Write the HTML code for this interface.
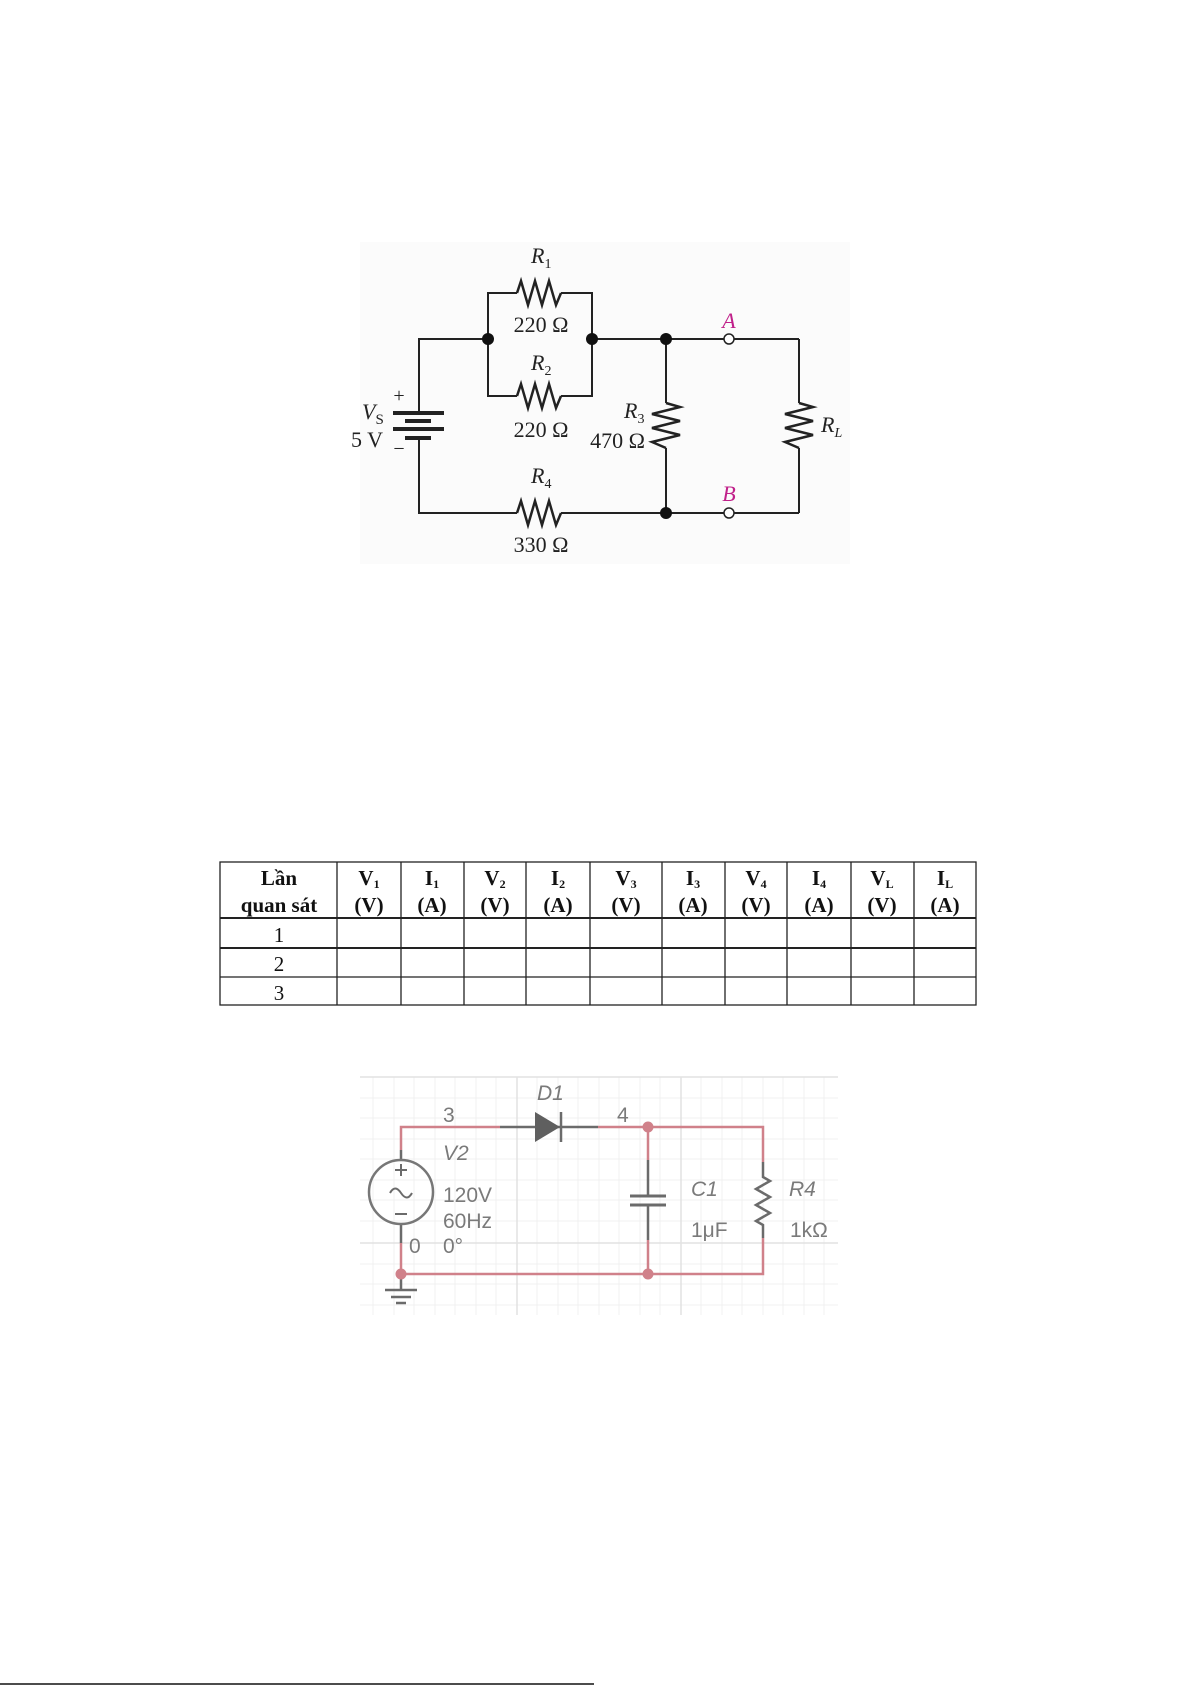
<!DOCTYPE html>
<html><head><meta charset="utf-8"><style>
html,body{margin:0;padding:0;background:#fff;}
svg{display:block;}
</style></head><body>
<svg width="1191" height="1685" viewBox="0 0 1191 1685" xmlns="http://www.w3.org/2000/svg">
<!-- Circuit 1 -->
<rect x="360" y="242" width="490" height="322" fill="#fbfbfb"/>
<g stroke="#222" stroke-width="2" fill="none">
  <polyline points="488,339 419,339 419,413"/>
  <polyline points="419,438 419,513 517,513"/>
  <polyline points="488,339 488,293 517,293"/>
  <polyline points="561,293 592,293 592,396 561,396"/>
  <polyline points="517,396 488,396 488,339"/>
  <polyline points="517,293 521,281 528,305 535,281 542,305 549,281 556,305 561,293" stroke-width="2.5"/>
  <polyline points="517,396 521,384 528,408 535,384 542,408 549,384 556,408 561,396" stroke-width="2.5"/>
  <polyline points="517,513 521,501 528,525 535,501 542,525 549,501 556,525 561,513" stroke-width="2.5"/>
  <line x1="561" y1="513" x2="724" y2="513"/>
  <line x1="734" y1="513" x2="799" y2="513"/>
  <line x1="592" y1="339" x2="724" y2="339"/>
  <line x1="734" y1="339" x2="799" y2="339"/>
  <polyline points="666,339 666,403"/>
  <polyline points="666,403 680,407 652,414 680,421 652,428 680,435 652,442 666,448" stroke-width="2.5"/>
  <polyline points="666,448 666,513"/>
  <polyline points="799,339 799,403"/>
  <polyline points="799,403 813,407 785,414 813,421 785,428 813,435 785,442 799,448" stroke-width="2.5"/>
  <polyline points="799,448 799,513"/>
</g>
<g stroke="#222" stroke-width="4">
  <line x1="393" y1="413" x2="444" y2="413"/>
  <line x1="405" y1="421" x2="431" y2="421"/>
  <line x1="393" y1="429" x2="444" y2="429"/>
  <line x1="405" y1="438" x2="431" y2="438"/>
</g>
<g fill="#111">
  <circle cx="488" cy="339" r="6"/><circle cx="592" cy="339" r="6"/>
  <circle cx="666" cy="339" r="6"/><circle cx="666" cy="513" r="6"/>
</g>
<g fill="#fff" stroke="#222" stroke-width="1.5">
  <circle cx="729" cy="339" r="5"/><circle cx="729" cy="513" r="5"/>
</g>
<g font-family="Liberation Serif, serif" font-size="22" fill="#222">
  <text x="531" y="263" font-style="italic">R<tspan font-style="normal" font-size="14" dy="5">1</tspan></text>
  <text x="541" y="332" text-anchor="middle">220 Ω</text>
  <text x="531" y="370" font-style="italic">R<tspan font-style="normal" font-size="14" dy="5">2</tspan></text>
  <text x="541" y="437" text-anchor="middle">220 Ω</text>
  <text x="624" y="418" font-style="italic">R<tspan font-style="normal" font-size="14" dy="5">3</tspan></text>
  <text x="645" y="448" text-anchor="end">470 Ω</text>
  <text x="821" y="432" font-style="italic">R<tspan font-size="14" dy="5">L</tspan></text>
  <text x="362" y="419" font-style="italic">V<tspan font-style="normal" font-size="15" dy="5">S</tspan></text>
  <text x="383" y="447" text-anchor="end">5 V</text>
  <text x="399" y="402" text-anchor="middle" font-size="20">+</text>
  <text x="399" y="455" text-anchor="middle" font-size="20">−</text>
  <text x="531" y="483" font-style="italic">R<tspan font-style="normal" font-size="14" dy="5">4</tspan></text>
  <text x="541" y="552" text-anchor="middle">330 Ω</text>
  <text x="729" y="328" text-anchor="middle" font-style="italic" fill="#c0208a">A</text>
  <text x="729" y="501" text-anchor="middle" font-style="italic" fill="#c0208a">B</text>
</g>

<!-- Table -->
<g stroke="#222" stroke-width="1.3" fill="none">
  <rect x="220" y="862" width="756" height="143"/>
  <line x1="220" y1="918" x2="976" y2="918" stroke-width="2"/>
  <line x1="220" y1="948" x2="976" y2="948" stroke-width="2"/>
  <line x1="220" y1="977" x2="976" y2="977"/>
  <line x1="337" y1="862" x2="337" y2="1005"/>
  <line x1="401" y1="862" x2="401" y2="1005"/>
  <line x1="464" y1="862" x2="464" y2="1005"/>
  <line x1="526" y1="862" x2="526" y2="1005"/>
  <line x1="590" y1="862" x2="590" y2="1005"/>
  <line x1="662" y1="862" x2="662" y2="1005"/>
  <line x1="725" y1="862" x2="725" y2="1005"/>
  <line x1="787" y1="862" x2="787" y2="1005"/>
  <line x1="851" y1="862" x2="851" y2="1005"/>
  <line x1="914" y1="862" x2="914" y2="1005"/>
</g>
<g font-family="Liberation Serif, serif" font-size="21" fill="#111" text-anchor="middle" font-weight="bold">
  <text x="279" y="885">Lần</text><text x="279" y="912">quan sát</text>
  <text x="369" y="885">V<tspan font-size="12" dy="3">1</tspan></text><text x="369" y="912">(V)</text>
  <text x="432" y="885">I<tspan font-size="12" dy="3">1</tspan></text><text x="432" y="912">(A)</text>
  <text x="495" y="885">V<tspan font-size="12" dy="3">2</tspan></text><text x="495" y="912">(V)</text>
  <text x="558" y="885">I<tspan font-size="12" dy="3">2</tspan></text><text x="558" y="912">(A)</text>
  <text x="626" y="885">V<tspan font-size="12" dy="3">3</tspan></text><text x="626" y="912">(V)</text>
  <text x="693" y="885">I<tspan font-size="12" dy="3">3</tspan></text><text x="693" y="912">(A)</text>
  <text x="756" y="885">V<tspan font-size="12" dy="3">4</tspan></text><text x="756" y="912">(V)</text>
  <text x="819" y="885">I<tspan font-size="12" dy="3">4</tspan></text><text x="819" y="912">(A)</text>
  <text x="882" y="885">V<tspan font-size="12" dy="3">L</tspan></text><text x="882" y="912">(V)</text>
  <text x="945" y="885">I<tspan font-size="12" dy="3">L</tspan></text><text x="945" y="912">(A)</text>
</g>
<g font-family="Liberation Serif, serif" font-size="21" fill="#111" text-anchor="middle">
  <text x="279" y="942">1</text><text x="279" y="971">2</text><text x="279" y="1000">3</text>
</g>

<!-- Circuit 3 grid -->
<g stroke="#f0f0f0" stroke-width="1">
  <line x1="373" y1="1077" x2="373" y2="1315"/><line x1="394" y1="1077" x2="394" y2="1315"/><line x1="414" y1="1077" x2="414" y2="1315"/><line x1="435" y1="1077" x2="435" y2="1315"/><line x1="455" y1="1077" x2="455" y2="1315"/><line x1="476" y1="1077" x2="476" y2="1315"/><line x1="496" y1="1077" x2="496" y2="1315"/>
  <line x1="537" y1="1077" x2="537" y2="1315"/><line x1="558" y1="1077" x2="558" y2="1315"/><line x1="578" y1="1077" x2="578" y2="1315"/><line x1="599" y1="1077" x2="599" y2="1315"/><line x1="619" y1="1077" x2="619" y2="1315"/><line x1="640" y1="1077" x2="640" y2="1315"/><line x1="660" y1="1077" x2="660" y2="1315"/>
  <line x1="701" y1="1077" x2="701" y2="1315"/><line x1="722" y1="1077" x2="722" y2="1315"/><line x1="742" y1="1077" x2="742" y2="1315"/><line x1="763" y1="1077" x2="763" y2="1315"/><line x1="783" y1="1077" x2="783" y2="1315"/><line x1="804" y1="1077" x2="804" y2="1315"/><line x1="824" y1="1077" x2="824" y2="1315"/>
  <line x1="360" y1="1098" x2="838" y2="1098"/><line x1="360" y1="1118" x2="838" y2="1118"/><line x1="360" y1="1139" x2="838" y2="1139"/><line x1="360" y1="1159" x2="838" y2="1159"/><line x1="360" y1="1180" x2="838" y2="1180"/><line x1="360" y1="1200" x2="838" y2="1200"/><line x1="360" y1="1221" x2="838" y2="1221"/>
  <line x1="360" y1="1264" x2="838" y2="1264"/><line x1="360" y1="1284" x2="838" y2="1284"/><line x1="360" y1="1305" x2="838" y2="1305"/>
</g>
<g stroke="#e2e2e2" stroke-width="1.5">
  <line x1="360" y1="1077" x2="838" y2="1077"/>
  <line x1="360" y1="1243" x2="838" y2="1243"/>
  <line x1="517" y1="1077" x2="517" y2="1315"/>
  <line x1="681" y1="1077" x2="681" y2="1315"/>
</g>
<g stroke="#d0818a" stroke-width="2.5" fill="none">
  <polyline points="401,1150 401,1127 500,1127"/>
  <polyline points="598,1127 763,1127 763,1162"/>
  <line x1="648" y1="1127" x2="648" y2="1160"/>
  <line x1="648" y1="1240" x2="648" y2="1274"/>
  <polyline points="401,1243 401,1274 763,1274 763,1238"/>
</g>
<g stroke="#6b6b6b" stroke-width="2.5" fill="none">
  <line x1="401" y1="1150" x2="401" y2="1160"/>
  <line x1="401" y1="1224" x2="401" y2="1243"/>
  <line x1="500" y1="1127" x2="598" y2="1127"/>
  <line x1="561" y1="1112" x2="561" y2="1142"/>
  <line x1="648" y1="1160" x2="648" y2="1196"/>
  <line x1="648" y1="1205" x2="648" y2="1240"/>
  <line x1="630" y1="1196" x2="666" y2="1196" stroke-width="3"/>
  <line x1="630" y1="1205" x2="666" y2="1205" stroke-width="3"/>
  <polyline points="763,1162 763,1177 770,1181 756,1189 770,1197 756,1205 770,1213 756,1221 763,1225 763,1238"/>
  <circle cx="401" cy="1192" r="32" stroke="#777"/>
  <path d="M390,1193 q5,-9 11,0 q6,9 11,0" stroke-width="2"/>
  <line x1="395" y1="1170" x2="407" y2="1170" stroke-width="2"/>
  <line x1="401" y1="1164" x2="401" y2="1176" stroke-width="2"/>
  <line x1="395" y1="1214" x2="407" y2="1214" stroke-width="2"/>
  <line x1="401" y1="1274" x2="401" y2="1290"/>
  <line x1="385" y1="1290" x2="417" y2="1290"/>
  <line x1="391" y1="1297" x2="411" y2="1297"/>
  <line x1="396" y1="1303" x2="406" y2="1303"/>
</g>
<polygon points="535,1112 535,1142 560,1127" fill="#5f5f5f"/>
<g fill="#d0818a">
  <circle cx="648" cy="1127" r="5.5"/><circle cx="648" cy="1274" r="5.5"/><circle cx="401" cy="1274" r="5.5"/>
</g>
<g font-family="Liberation Sans, sans-serif" font-size="21" fill="#7a7a7a">
  <text x="443" y="1122">3</text>
  <text x="537" y="1100" font-style="italic">D1</text>
  <text x="617" y="1122">4</text>
  <text x="443" y="1160" font-style="italic">V2</text>
  <text x="443" y="1202">120V</text>
  <text x="443" y="1228">60Hz</text>
  <text x="443" y="1253">0°</text>
  <text x="409" y="1253">0</text>
  <text x="691" y="1196" font-style="italic">C1</text>
  <text x="691" y="1237">1μF</text>
  <text x="789" y="1196" font-style="italic">R4</text>
  <text x="790" y="1237">1kΩ</text>
</g>

<line x1="0" y1="1684" x2="594" y2="1684" stroke="#111" stroke-width="1.5"/>
</svg>
</body></html>
